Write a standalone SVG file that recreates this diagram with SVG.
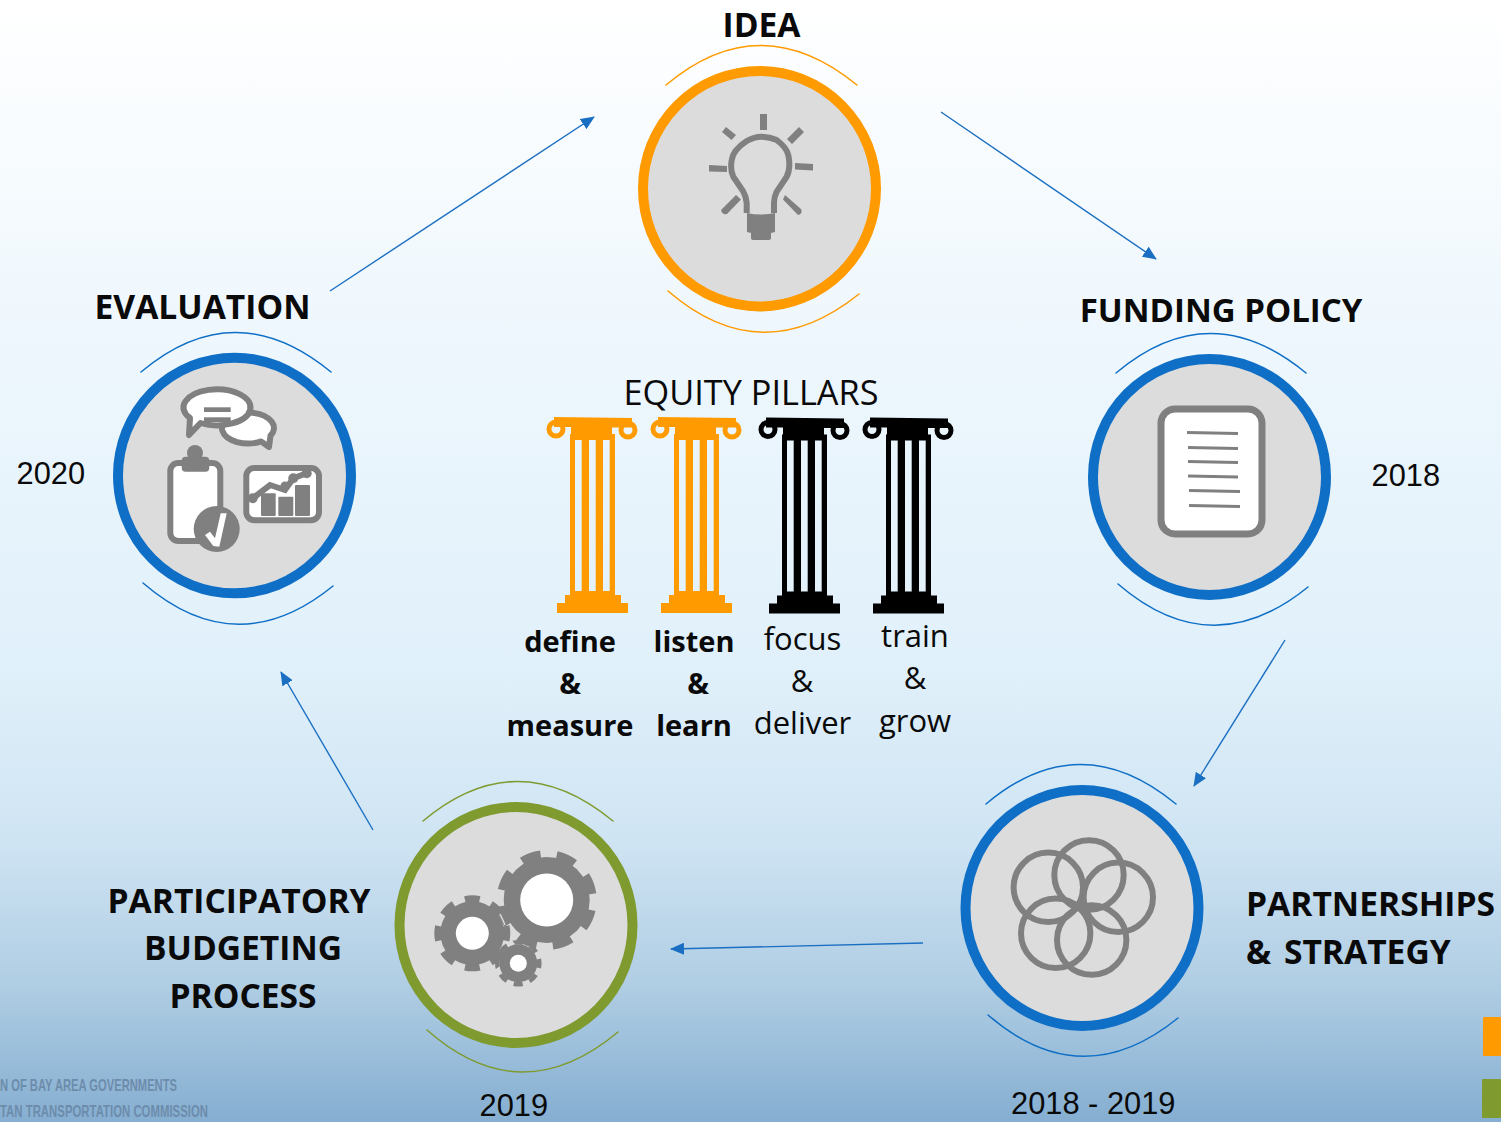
<svg xmlns="http://www.w3.org/2000/svg" width="1501" height="1122" viewBox="0 0 1501 1122">
<style>
.ring{fill:#dcdcdc;stroke-width:10}
.arc{fill:none;stroke-width:1.5;stroke-linecap:round}
.o{stroke:#ff9b00}.b{stroke:#0f6fc6}.g{stroke:#7f9a2e}
.ic{fill:#808080}
.ln{fill:none;stroke:#808080;stroke-width:6}
.w{fill:#fff;stroke:#808080;stroke-width:6}
.conn{fill:none;stroke:#1a6fc2;stroke-width:1.4;marker-end:url(#ah)}
.h{font-family:"Open Sans",sans-serif;font-weight:700;font-size:33.600px;fill:#0a0a0a}
.t{font-family:"Open Sans",sans-serif;font-size:31px;fill:#0a0a0a;text-anchor:middle}
.tb{font-weight:700;font-size:29px}
.y{font-family:"Liberation Sans",Arial,sans-serif;font-size:30.800px;fill:#0a0a0a}
.m{text-anchor:middle}
.f{font-family:"Liberation Sans Narrow","Liberation Sans",sans-serif;font-size:17px;font-weight:700;fill:#6d8cab}
</style>
<defs>
<linearGradient id="bg" x1="0" y1="0" x2="0" y2="1">
<stop offset="0" stop-color="#ffffff"/>
<stop offset="0.3" stop-color="#eef7fd"/>
<stop offset="0.6" stop-color="#e0f0fa"/>
<stop offset="0.75" stop-color="#cfe4f3"/>
<stop offset="0.88" stop-color="#afcde3"/>
<stop offset="1" stop-color="#85aed1"/>
</linearGradient>
<marker id="ah" markerUnits="userSpaceOnUse" markerWidth="14" markerHeight="12" refX="13" refY="6" orient="auto">
<path d="M0 0L14 6L0 12Z" fill="#1a6fc2"/>
</marker>
<symbol id="pillar" overflow="visible">
<path fill-rule="evenodd" d="M554 417L632 418L632 427.500L612 427.500L612 434L615 434L615 595L621 595L621 603L628 603L628 613L557 613L557 603L565 603L565 595L570 595L570 434L571 434L571 427L554 427ZM575 440L575 591L581.700 591L581.700 440ZM589 440L589 591L595.700 591L595.700 440ZM603 440L603 591L609.700 591L609.700 440Z"/>
<circle cx="556" cy="429" r="7" fill="none" stroke="currentColor" stroke-width="5"/>
<circle cx="628" cy="430" r="7" fill="none" stroke="currentColor" stroke-width="5"/>
</symbol>
</defs>
<rect id="background" width="1501" height="1122" fill="url(#bg)"/>

<g id="connectors">
<path class="conn" d="M330 291L594 117"/>
<path class="conn" d="M941 112L1156 259"/>
<path class="conn" d="M1285 640L1194 786"/>
<path class="conn" d="M923 943L671 949"/>
<path class="conn" d="M373 830L281 672"/>
</g>

<g id="node-idea">
<path class="arc o" d="M666 85Q760 6 857 85"/>
<path class="arc o" d="M668 291Q762 372 859 294"/>
<ellipse class="ring o" cx="759.500" cy="188.700" rx="116.500" ry="117.800"/>
<path d="M746.700 213V203Q746 196 743 191L733.300 176.700Q730 170 731.700 160Q733 150 746.700 141Q754 136.700 761.700 136.700Q770 137 776.700 140Q787 148 788.300 155Q791 168 786.700 176.700L776.700 191.700Q774 197 774 203V213" class="ln"/>
<path class="ic" d="M747 213Q761 216 775 213V232L771 233V238Q771 240 768 240H753Q751 240 751 238V233L747 232Z"/>
<rect class="ic" x="760" y="114" width="7" height="16"/>
<path class="ic" d="M709 165L727 166V172L709 171.500ZM795 163L813 164V170.500L795 169.500ZM726 127L736 135L731.500 140L722 132ZM799 127L804 132L792 144L787 139ZM736 195L741 199.500L727 214Q722 215 721 210ZM785 195L801 209Q803 214 798 215L783 199.500Z"/>
</g>

<g id="node-funding">
<path class="arc b" d="M1116 373Q1210 294 1306 373"/>
<path class="arc b" d="M1118 584Q1212 665 1308 587"/>
<ellipse class="ring b" cx="1209.500" cy="477" rx="116.500" ry="118"/>
<rect x="1161" y="409" width="101" height="125" rx="14" fill="#fff" stroke="#808080" stroke-width="7"/>
<path d="M1187 432.500L1238 433.500M1188 447.500L1238 448.500M1188 461.500L1238 462.500M1188 476L1238 477M1189 490.500L1240 491.500M1189 505.500L1240 506.500" fill="none" stroke="#808080" stroke-width="3"/>
</g>

<g id="node-partnerships">
<path class="arc b" d="M986 804Q1080 725 1176 804"/>
<path class="arc b" d="M988 1015Q1082 1096 1178 1018"/>
<ellipse class="ring b" cx="1082" cy="908" rx="116.500" ry="118"/>
<g fill="none" stroke="#808080" stroke-width="6">
<circle cx="1048.300" cy="887.300" r="34.700"/>
<circle cx="1089" cy="875" r="34.700"/>
<circle cx="1118.300" cy="897.300" r="34.700"/>
<circle cx="1091.700" cy="940" r="34.700"/>
<circle cx="1055.700" cy="933.300" r="34.700"/>
</g>
</g>

<g id="node-participatory">
<path class="arc g" d="M423 821Q517 742 613 821"/>
<path class="arc g" d="M427 1030Q521 1113 618 1032"/>
<ellipse class="ring g" cx="516" cy="925" rx="116.500" ry="118"/>
<g transform="translate(546.700 900)">
<circle r="43" class="ic"/>
<circle r="46" fill="none" stroke="#808080" stroke-width="8" pathLength="16" stroke-dasharray="1.100 0.900" transform="rotate(12.600)"/>
<circle r="26.500" fill="#fff"/>
</g>
<g transform="translate(472.300 933.300)">
<circle r="32" class="ic"/>
<circle r="34.500" fill="none" stroke="#808080" stroke-width="7" pathLength="16" stroke-dasharray="1.100 0.900" transform="rotate(-12.400)"/>
<circle r="16.500" fill="#fff"/>
</g>
<path d="M500 914Q503 920 505 925" fill="none" stroke="#dcdcdc" stroke-width="1.500"/>
<g transform="translate(518.300 963.300)">
<circle r="19" class="ic"/>
<circle r="21" fill="none" stroke="#808080" stroke-width="4.500" pathLength="16" stroke-dasharray="1.100 0.900" transform="rotate(-12)"/>
<circle r="8.500" fill="#fff"/>
</g>
</g>

<g id="node-evaluation">
<path class="arc b" d="M141 372Q235 293 331 372"/>
<path class="arc b" d="M143 583Q237 664 333 586"/>
<ellipse class="ring b" cx="234.500" cy="475.500" rx="116.500" ry="117.800"/>
<path class="w" stroke-linejoin="round" d="M270.500 435.700L269 447L261 441.400A26 15.500 0 1 1 270.500 435.700Z"/>
<path class="w" stroke-linejoin="round" d="M190 418A33.500 18 0 1 1 200.500 423L189 435Z"/>
<rect class="ic" x="204" y="407.300" width="26.700" height="4.700"/>
<rect class="ic" x="204" y="417.300" width="26.700" height="4.700"/>
<rect class="w" x="170.300" y="463" width="50" height="78" rx="8"/>
<circle class="ic" cx="195" cy="453" r="8"/>
<rect class="ic" x="181.700" y="456.700" width="27.600" height="15" rx="4"/>
<circle class="ic" cx="216.700" cy="529" r="23"/>
<path fill="#fff" d="M205 535L210 531.700L215 538.300L220.700 513.300L226.700 513.300L219.300 546.700L213.300 546Z"/>
<rect class="w" x="246.300" y="468" width="72.700" height="52.300" rx="8"/>
<rect class="ic" x="261" y="493.300" width="14.700" height="22.700" rx="1"/>
<rect class="ic" x="278.300" y="496.700" width="15" height="19.300" rx="1"/>
<rect class="ic" x="295" y="485" width="15" height="31" rx="1"/>
<path class="ln" d="M252.700 498.300L270 485L285 490L293.300 478.300L306.700 473.300"/>
<circle class="ic" cx="252.700" cy="498.300" r="5"/>
<circle class="ic" cx="285" cy="486" r="4.500"/>
<circle class="ic" cx="293.300" cy="478.300" r="5"/>
<circle class="ic" cx="306.700" cy="473.300" r="5"/>
</g>

<g id="equity-pillars">
<text x="751" y="404.500" font-family="Open Sans, sans-serif" font-size="34.300" fill="#0a0a0a" text-anchor="middle">EQUITY PILLARS</text>
<use href="#pillar" style="color:#ff9b00" fill="#ff9b00"/>
<use href="#pillar" x="104" style="color:#ff9b00" fill="#ff9b00"/>
<use href="#pillar" x="212" y="0.500" style="color:#000" fill="#000"/>
<use href="#pillar" x="316" y="0.500" style="color:#000" fill="#000"/>
<text class="t tb" x="570" y="652">define</text>
<text class="t tb" x="570" y="694">&amp;</text>
<text class="t tb" x="570" y="736">measure</text>
<text class="t tb" x="694" y="652">listen</text>
<text class="t tb" x="698" y="694">&amp;</text>
<text class="t tb" x="694" y="736">learn</text>
<text class="t" x="802.500" y="650">focus</text>
<text class="t" x="802" y="692">&amp;</text>
<text class="t" x="802.500" y="734">deliver</text>
<text class="t" x="915" y="647">train</text>
<text class="t" x="915" y="689">&amp;</text>
<text class="t" x="915" y="732">grow</text>
</g>

<g id="labels">
<text class="h m" x="761.500" y="36.500">IDEA</text>
<text class="h m" x="202.500" y="318.500">EVALUATION</text>
<text class="h m" x="1221" y="322" style="font-size:33px">FUNDING POLICY</text>
<text class="h m" x="239" y="912.500">PARTICIPATORY</text>
<text class="h m" x="243" y="959.500">BUDGETING</text>
<text class="h m" x="243" y="1007.500">PROCESS</text>
<text class="h" x="1246" y="915.500">PARTNERSHIPS</text>
<text class="h" x="1246" y="963.500" word-spacing="4">&amp; STRATEGY</text>
<text class="y" x="16.500" y="484">2020</text>
<text class="y" x="1371.500" y="486">2018</text>
<text class="y" x="479.500" y="1116">2019</text>
<text class="y" x="1011" y="1114">2018 - 2019</text>
<text class="f" x="0" y="1091" textLength="177" lengthAdjust="spacingAndGlyphs">N OF BAY AREA GOVERNMENTS</text>
<text class="f" x="0" y="1117" textLength="208" lengthAdjust="spacingAndGlyphs">TAN TRANSPORTATION COMMISSION</text>
</g>

<g id="legend-swatches">
<rect x="1483" y="1017" width="18" height="39" rx="1" fill="#ff9b00"/>
<rect x="1482" y="1079" width="19" height="39" rx="1" fill="#7f9a2e"/>
</g>
</svg>
